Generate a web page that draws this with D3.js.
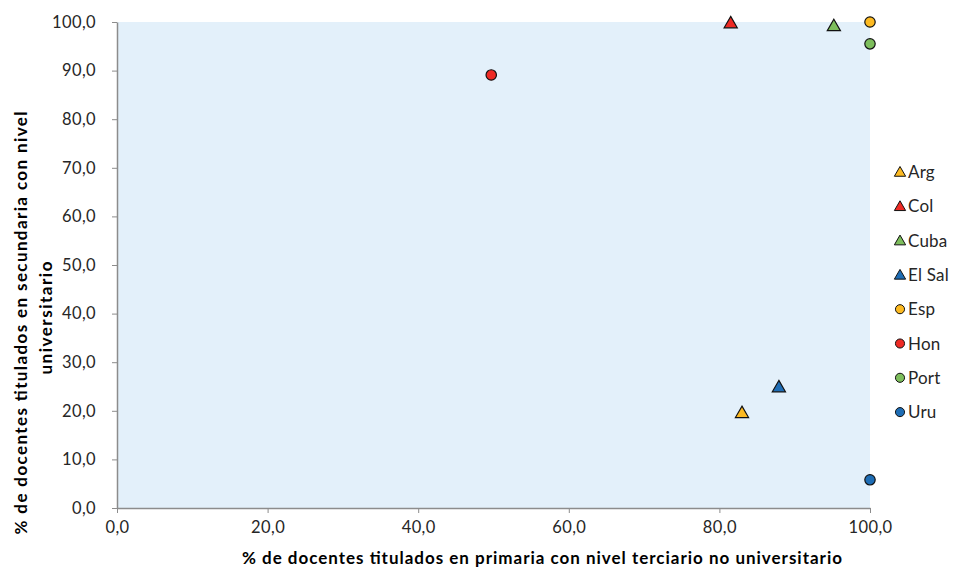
<!DOCTYPE html>
<html><head><meta charset="utf-8">
<script src="https://cdn.jsdelivr.net/npm/d3@7/dist/d3.min.js"></script>
<style>body{margin:0;background:#fff}svg{display:block;font-family:Lato,"Open Sans",sans-serif}</style>
</head><body><svg id="c" width="955" height="568"></svg>
<script>
const countries = ["Arg","Col","Cuba","El Sal","Esp","Hon","Port","Uru"];
const xValues = [83.0, 81.5, 95.2, 87.9, 100.0, 49.7, 100.0, 100.0];
const yValues = [19.8, 100.0, 99.4, 25.1, 100.0, 89.1, 95.5, 5.8];
const shapes = ["triangle","triangle","triangle","triangle","circle","circle","circle","circle"];
const colors = ["#FDBA21","#EE2A24","#7DBE5C","#1E6DB5","#FDBA21","#EE2A24","#7DBE5C","#1E6DB5"];
const xTicks = [0,20,40,60,80,100];
const yTicks = [0,10,20,30,40,50,60,70,80,90,100];
const xTitle = "% de docentes titulados en primaria con nivel terciario no universitario";
const yTitle = ["% de docentes titulados en secundaria con nivel","universitario"];

const svg = d3.select("#c");
const L=117,R=870,T=22,B=508;
const x = d3.scaleLinear().domain([0,100]).range([L,R]);
const y = d3.scaleLinear().domain([0,100]).range([B,T]);
const fmt = d => d.toFixed(1).replace(".",",");

svg.append("rect").attr("x",L).attr("y",T).attr("width",R-L).attr("height",B-T).attr("fill","#E3F0FA");

const gx = svg.append("g").attr("transform",`translate(0,${B})`)
  .call(d3.axisBottom(x).tickValues(xTicks).tickFormat(fmt).tickSize(5).tickSizeOuter(0));
const gy = svg.append("g").attr("transform",`translate(${L},0)`)
  .call(d3.axisLeft(y).tickValues(yTicks).tickFormat(fmt).tickSize(5).tickSizeOuter(0));
[gx,gy].forEach(g=>{
  g.select(".domain").attr("stroke","#8c8c8c").attr("stroke-width",1.5);
  g.selectAll(".tick line").attr("stroke","#8c8c8c");
  g.selectAll(".tick text").attr("fill","#262626").attr("font-size",16.5)
    .attr("letter-spacing",0.4).attr("font-family","Lato, sans-serif");
});
gx.selectAll(".tick text").attr("dy","1.0em");
gy.selectAll(".tick text").attr("x",-21);

const tri = d3.symbol().type(d3.symbolTriangle).size(75);
const circ = d3.symbol().type(d3.symbolCircle).size(85);
const data = countries.map((c,i)=>({c,x:xValues[i],y:yValues[i],s:shapes[i],col:colors[i]}));

svg.append("g").selectAll("path").data(data).join("path")
  .attr("d",d=>d.s==="triangle"?tri():circ())
  .attr("transform",d=>`translate(${x(d.x)},${y(d.y)+(d.s==="triangle"?2:0)})`)
  .attr("fill",d=>d.col).attr("stroke","#111").attr("stroke-width",1.2);

const lg = svg.append("g");
data.forEach((d,i)=>{
  const yy = 172 + i*34.3;
  lg.append("path").attr("d",d.s==="triangle"?d3.symbol().type(d3.symbolTriangle).size(55)():d3.symbol().type(d3.symbolCircle).size(65)())
    .attr("transform",`translate(900,${yy+(d.s==="triangle"?1:0)})`)
    .attr("fill",d.col).attr("stroke","#111").attr("stroke-width",1);
  lg.append("text").attr("x",908).attr("y",yy).attr("dy","0.36em").attr("font-size",17).attr("letter-spacing",0.2).attr("fill","#262626").text(d.c);
});

svg.append("text").attr("x",242).attr("y",564)
  .attr("textLength",600).attr("lengthAdjust","spacing")
  .attr("font-size",17).attr("font-weight","bold").attr("fill","#000").text(xTitle);
const yLens=[423,113], yX=[27,52], yC=[323,318];
yTitle.forEach((t,i)=>{
  svg.append("text").attr("transform",`translate(${yX[i]},${yC[i]}) rotate(-90)`)
    .attr("x",-yLens[i]/2).attr("textLength",yLens[i]).attr("lengthAdjust","spacing")
    .attr("font-size",17).attr("font-weight","bold").attr("fill","#000").text(t);
});
</script></body></html>
